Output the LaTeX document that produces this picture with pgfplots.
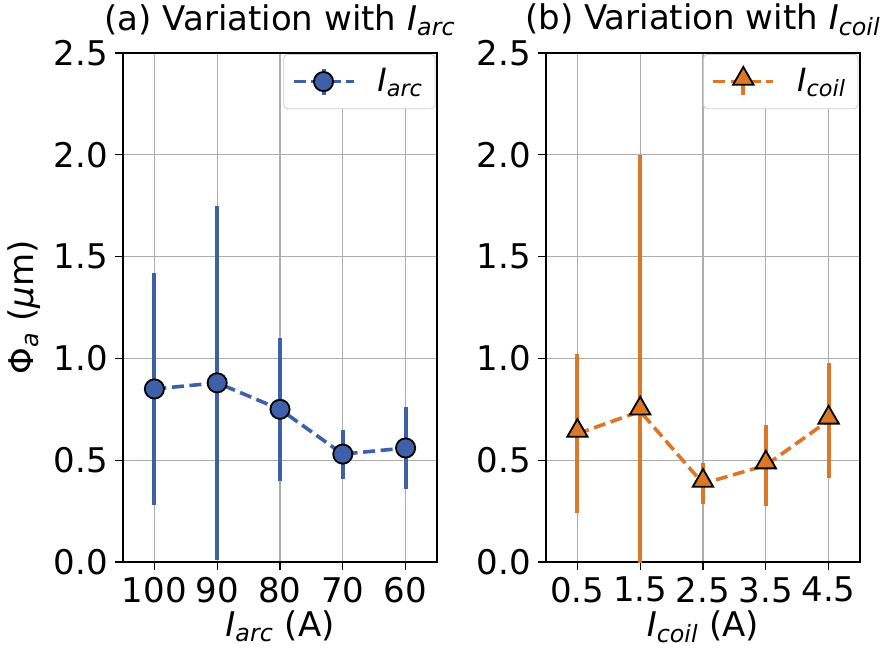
\documentclass[border=0pt]{standalone}
\usepackage{fontspec}
\setmainfont{DejaVu Sans}
\usepackage{pgfplots}
\pgfplotsset{compat=1.18}
\definecolor{cblue}{RGB}{61,96,168}
\definecolor{corange}{RGB}{221,119,40}
\newcommand{\Iarc}{\textit{I}\textsubscript{\textit{arc}}}
\newcommand{\Icoil}{\textit{I}\textsubscript{\textit{coil}}}
\pgfplotsset{
  mystyle/.style={
    scale only axis, width=157pt, height=254.5pt,
    xmin=-0.5, xmax=4.5, ymin=0, ymax=2.5,
    ytick={0,0.5,1,1.5,2,2.5},
    xtick={0,1,2,3,4},
    yticklabel style={/pgf/number format/.cd, fixed, fixed zerofill, precision=1},
    /pgf/number format/assume math mode=true,
    grid=major, major grid style={color=black!32, line width=0.6pt},
    tick align=outside, tick pos=left, major tick length=4pt,
    axis line style={line width=0.8pt},
    every tick/.style={black, line width=0.6pt},
    font=\fontsize{17}{20}\selectfont,
    tick label style={font=\fontsize{17}{20}\selectfont},
    title style={at={(0.5,1)}, anchor=south, yshift=-1pt},
    xlabel style={yshift=3pt},
    legend style={at={(0.995,0.998)}, anchor=north east, draw=black!20, rounded corners=2pt,
      font=\fontsize{16}{19}\selectfont, inner xsep=4pt, inner ysep=5pt},
    legend cell align=left,
    error bars/y dir=both, error bars/y explicit,
    error bars/error mark=none,
    error bars/error bar style={line width=2pt, solid},
    legend image code/.code={
      \draw[##1, solid, line width=2pt, mark=none] (15pt,-6.5pt) -- (15pt,6.5pt);
      \draw[mark repeat=2, mark phase=2, ##1] plot coordinates {(0pt,0pt) (15pt,0pt) (30pt,0pt)};
    },
  },
  myline/.style={line width=1.8pt, dash pattern=on 6pt off 2.8pt},
}
\begin{document}
\begin{tikzpicture}
\useasboundingbox (0,0) rectangle (442.5pt,325pt);
\begin{axis}[mystyle, at={(61.5pt,44pt)}, anchor=south west,
  xticklabels={100,90,80,70,60},
  title={(a) Variation with \Iarc},
  xlabel={\Iarc\ (A)},
  ylabel={Φ\textsubscript{\textit{a}} (\textit{μ}m)},
]
\addplot[cblue, myline, mark=*, mark size=4.8pt,
  mark options={solid, fill=cblue, draw=black, line width=0.9pt}]
  table[x=x, y=y, y error=e] {
x y e
0 0.85 0.57
1 0.88 0.87
2 0.75 0.35
3 0.53 0.12
4 0.56 0.20
};
\addlegendentry{\hspace{9pt}\Iarc}
\end{axis}
\begin{axis}[mystyle, at={(273pt,44pt)}, anchor=south west,
  xticklabels={0.5,1.5,2.5,3.5,4.5},
  title={(b) Variation with \Icoil},
  xlabel={\Icoil\ (A)},
]
\addplot[corange, myline, mark=triangle*, mark size=5.9pt,
  mark options={solid, fill=corange, draw=black, line width=0.9pt, yshift=1.4pt}]
  table[x=x, y=y, y error=e] {
x y e
0 0.63 0.39
1 0.74 1.26
2 0.385 0.10
3 0.475 0.20
4 0.695 0.28
};
\addlegendentry{\hspace{9pt}\Icoil}
\end{axis}
\end{tikzpicture}
\end{document}
